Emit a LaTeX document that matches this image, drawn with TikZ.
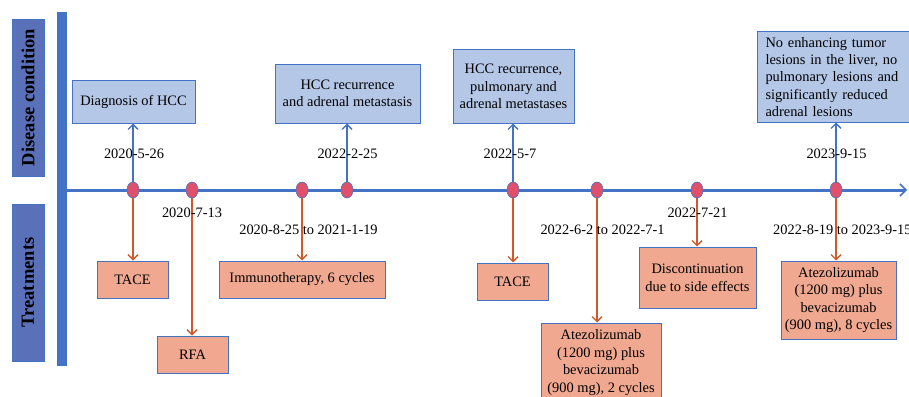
\documentclass[tikz,border=0pt]{standalone}
\usepackage{fontspec}
\setmainfont{Liberation Serif}
\usetikzlibrary{arrows.meta,shapes.geometric}
\definecolor{lineblue}{HTML}{4472C4}
\definecolor{boxblue}{HTML}{B4C7E7}
\definecolor{boxorange}{HTML}{F0A890}
\definecolor{arroworange}{HTML}{D0582A}
\definecolor{dotred}{HTML}{E0506A}
\definecolor{sideblue}{HTML}{5A71B9}
\tikzset{
  txt/.style={font=\fontsize{14.4}{17.6}\selectfont, text=black},
  condbox/.style={txt, draw=lineblue, line width=1pt, fill=boxblue, inner sep=0pt, align=center},
  treatbox/.style={txt, draw=lineblue, line width=1pt, fill=boxorange, inner sep=0pt, align=center},
  sidebox/.style={draw=lineblue, line width=0.8pt, fill=sideblue, minimum width=32pt, minimum height=157pt, inner sep=0pt},
  sidetxt/.style={font=\fontsize{18.5}{20}\selectfont\bfseries, text=black, rotate=90},
  datelbl/.style={txt, inner sep=0pt},
  evdot/.style={ellipse, draw=lineblue, line width=0.6pt, fill=dotred, minimum width=12pt, minimum height=16pt, inner sep=0pt},
  uparrow/.style={draw=lineblue, line width=1.5pt, -{Straight Barb[length=5pt,width=10pt,line width=1.3pt]}},
  downarrow/.style={draw=arroworange, line width=1.5pt, -{Straight Barb[length=5pt,width=10pt,line width=1.3pt]}},
}
\begin{document}
\begin{tikzpicture}[x=1pt,y=-1pt]
\useasboundingbox (0,0) rectangle (909,396);
% side labels
\node[sidebox] (dc) at (28,97.5) {};
\node[sidetxt] (dctxt) at (dc.center) {Disease condition};
\node[sidebox] (tr) at (28,282.5) {};
\node[sidetxt] (trtxt) at (tr.center) {Treatments};
% vertical bar
\node[fill=lineblue, minimum width=9.5pt, minimum height=354pt, inner sep=0pt] (bar) at (61.75,189) {};
% timeline
\coordinate (tlstart) at (66,190);
\coordinate (tlend) at (907,190);
\draw[draw=lineblue, line width=3pt, -{Straight Barb[length=6pt,width=12pt,line width=1.5pt]}] (tlstart) -- (tlend);
% event coordinates
\coordinate (e1) at (133,190);
\coordinate (e2) at (192,190);
\coordinate (e3) at (302,190);
\coordinate (e4) at (347,190);
\coordinate (e5) at (513,190);
\coordinate (e6) at (597,190);
\coordinate (e7) at (697,190);
\coordinate (e8) at (836,190);
% condition boxes
\node[condbox, minimum width=123pt, minimum height=43pt] (c1) at (133.5,101.5) {Diagnosis of HCC};
\node[condbox, minimum width=145pt, minimum height=59pt] (c2) at (347.5,93.5) {HCC recurrence\\and adrenal metastasis};
\node[condbox, minimum width=121pt, minimum height=73pt] (c3) at (513.5,86.5) {HCC recurrence,\\pulmonary and\\adrenal metastases};
\node[condbox, align=left, text width=139pt, inner xsep=8pt, minimum height=90pt, anchor=west, font=\fontsize{14.4}{17.3}\selectfont] (c4) at (757,77) {No enhancing tumor\\lesions in the liver, no\\pulmonary lesions and\\significantly reduced\\adrenal lesions};
% treatment boxes
\node[treatbox, minimum width=71pt, minimum height=37pt] (t1) at (132.5,279.5) {TACE};
\node[treatbox, minimum width=71pt, minimum height=37pt] (t2) at (192.5,354.5) {RFA};
\node[treatbox, minimum width=166pt, minimum height=37pt] (t3) at (302,279.5) {Immunotherapy, 6 cycles};
\node[treatbox, minimum width=71pt, minimum height=37pt] (t4) at (512.5,281.5) {TACE};
\node[treatbox, minimum width=120pt, minimum height=79pt] (t5) at (601,362.5) {Atezolizumab\\(1200 mg) plus\\bevacizumab\\(900 mg), 2 cycles};
\node[treatbox, minimum width=117pt, minimum height=61pt] (t6) at (697.5,277.5) {Discontinuation\\due to side effects};
\node[treatbox, minimum width=115pt, minimum height=78pt] (t7) at (838.5,300) {Atezolizumab\\(1200 mg) plus\\bevacizumab\\(900 mg), 8 cycles};
% arrows
\draw[uparrow] (e1) -- (e1 |- c1.south);
\draw[uparrow] (e4) -- (e4 |- c2.south);
\draw[uparrow] (e5) -- (e5 |- c3.south);
\draw[uparrow] (e8) -- (e8 |- c4.south);
\draw[downarrow] (e1) -- (e1 |- t1.north);
\draw[downarrow] (e2) -- (e2 |- t2.north);
\draw[downarrow] (e3) -- (e3 |- t3.north);
\draw[downarrow] (e5) -- (e5 |- t4.north);
\draw[downarrow] (e6) -- (e6 |- t5.north);
\draw[downarrow] (e7) -- (e7 |- t6.north);
\draw[downarrow] (e8) -- (e8 |- t7.north);
% dots
\foreach \e in {e1,e2,e3,e4,e5,e6,e7,e8}
  \node[evdot] (d\e) at (\e) {};
% date labels
\node[datelbl] (l1) at (134,154) {2020-5-26};
\node[datelbl] (l4) at (347.5,154) {2022-2-25};
\node[datelbl] (l5) at (510,154) {2022-5-7};
\node[datelbl] (l8) at (836.5,154) {2023-9-15};
\node[datelbl] (l2) at (192,213) {2020-7-13};
\node[datelbl] (l3) at (308.5,230) {2020-8-25 to 2021-1-19};
\node[datelbl] (l6) at (602.5,230) {2022-6-2 to 2022-7-1};
\node[datelbl] (l7) at (697.5,213) {2022-7-21};
\node[datelbl, anchor=west] (l9) at (773,230) {2022-8-19 to 2023-9-15};
\end{tikzpicture}
\end{document}
